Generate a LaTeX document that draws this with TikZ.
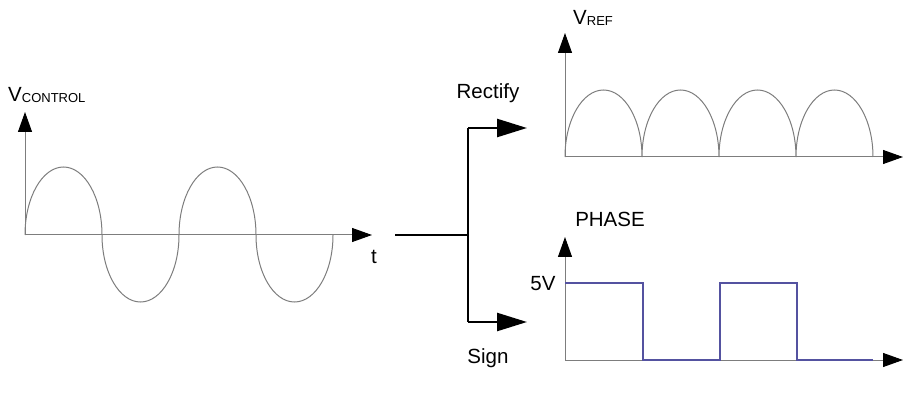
\documentclass[tikz,border=0pt]{standalone}
\usepackage{fontspec}
\setmainfont{Liberation Sans}
\usetikzlibrary{arrows.meta}
\definecolor{phaseblue}{RGB}{84,82,160}
\definecolor{axisgray}{RGB}{125,125,125}
\begin{document}
\begin{tikzpicture}[
  x=1pt, y=1pt,
  axis/.style={draw=axisgray, line width=1pt, -{Triangle[length=20pt, width=14pt, color=black]}},
  wave/.style={draw=axisgray, line width=1pt},
  square/.style={draw=phaseblue, line width=2pt},
  branch/.style={draw=black, line width=2.5pt},
  branch arrow/.style={branch, -{Triangle[length=30pt, width=18pt]}},
  every node/.style={font=\fontsize{20.5}{22}\selectfont, inner sep=0pt}
]
  \useasboundingbox (0,0) rectangle (905,394);

  \coordinate (ctrl o) at (25,159);
  \coordinate (ref o) at (565,237);
  \coordinate (phase o) at (565,34);
  \coordinate (in) at (395,159);
  \coordinate (split) at (468,159);
  \coordinate (split top) at (468,266);
  \coordinate (split bot) at (468,72);

  \draw[axis] (ctrl o) -- ++(0,123);
  \draw[axis] (ctrl o) -- ++(347,0);
  \draw[wave] (ctrl o)
    arc[start angle=180, end angle=0, x radius=38.5, y radius=68]
    arc[start angle=180, end angle=360, x radius=38.5, y radius=67]
    arc[start angle=180, end angle=0, x radius=38.5, y radius=68]
    arc[start angle=180, end angle=360, x radius=38.5, y radius=67];
  \node[anchor=west] (vctrl) at (8,299)
    {V\raisebox{-1.5pt}{\fontsize{13}{14}\selectfont CONTROL}};
  \node (tlabel) at (374,137) {t};

  \draw[branch] (in) -- (split);
  \draw[branch] (split top) -- (split bot);
  \draw[branch arrow] (split top) -- ++(59,0);
  \draw[branch arrow] (split bot) -- ++(59,0);
  \node (rectify) at (488,301) {Rectify};
  \node (sign) at (488,36) {Sign};

  \draw[axis] (ref o) -- ++(0,124);
  \draw[axis] (ref o) -- ++(338,0);
  \draw[wave] (ref o)
    foreach \k in {1,...,4} {arc[start angle=180, end angle=0, x radius=38.5, y radius=67]};
  \node[anchor=west] (vref) at (573,376)
    {V\raisebox{-1.5pt}{\fontsize{13}{14}\selectfont REF}};

  \draw[axis] (phase o) -- ++(0,123);
  \draw[axis] (phase o) -- ++(338,0);
  \draw[square] (565,111) -- (643,111) -- (643,34) -- (720,34)
    -- (720,111) -- (797,111) -- (797,34) -- (873,34);
  \node (phase) at (610,175) {PHASE};
  \node (five) at (543,110) {5V};
\end{tikzpicture}
\end{document}
